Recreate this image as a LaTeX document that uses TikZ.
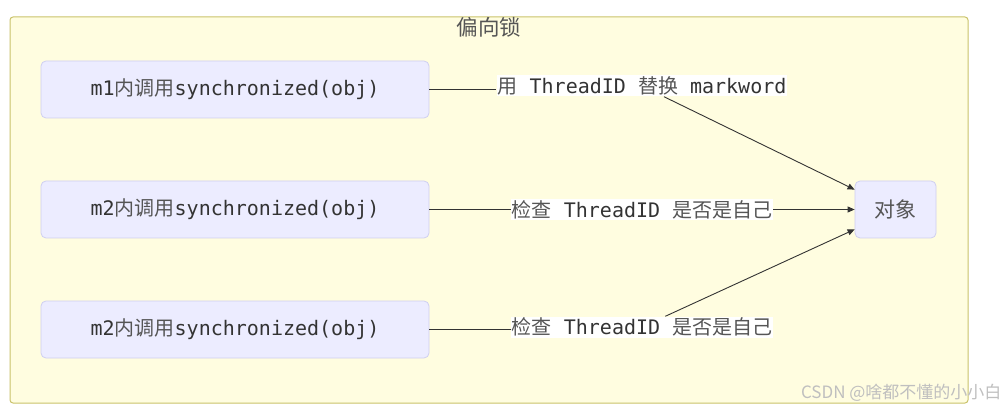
\documentclass[tikz,border=0pt]{standalone}
\usepackage{fontspec}
\setmonofont{DejaVu Sans Mono}
\newfontfamily\cjk{Noto Sans CJK SC}
\usetikzlibrary{arrows.meta,calc}
\definecolor{clfill}{HTML}{FFFDE0}
\definecolor{cldraw}{HTML}{C9C26A}
\definecolor{ndfill}{HTML}{ECECFF}
\definecolor{nddraw}{HTML}{CFCFF0}
\definecolor{txt}{HTML}{333333}
\definecolor{zhtxt}{HTML}{555555}
\newcommand\zh[1]{{\cjk\color{zhtxt}#1}}
\tikzset{
  basefont/.style={font=\ttfamily\fontsize{20}{22}\selectfont, text=txt},
  procbox/.style={basefont, draw=nddraw, fill=ndfill, rounded corners=5pt, line width=0.8pt, minimum width=388pt, minimum height=57pt, inner sep=0pt},
  objbox/.style={draw=nddraw, fill=ndfill, rounded corners=5pt, line width=0.8pt, minimum width=81pt, minimum height=57pt, inner sep=0pt, font=\fontsize{21}{23}\selectfont},
  edgelabel/.style={basefont, fill=white, inner xsep=1pt, inner ysep=0pt, minimum height=21pt},
  conn/.style={draw=txt, line width=0.9pt},
  arr/.style={conn, -{Triangle[length=7pt,width=6pt]}}
}
\begin{document}
\begin{tikzpicture}[x=1pt,y=-1pt]
\useasboundingbox (0,0) rectangle (1008,411);
\draw[fill=clfill, draw=cldraw, line width=1pt, rounded corners=3pt] (10,17) rectangle (968,403);
\node[font=\fontsize{21.5}{23}\selectfont] (title) at (489,27) {\zh{偏向锁}};
\node[procbox] (m1) at (235,89.5) {m1\zh{内调用}synchronized(obj)};
\node[procbox] (m2) at (235,209.5) {m2\zh{内调用}synchronized(obj)};
\node[procbox] (m3) at (235,329.5) {m2\zh{内调用}synchronized(obj)};
\node[objbox] (obj) at (895.5,209.5) {\zh{对象}};
\coordinate (o1) at ($(obj.north west)+(0,9)$);
\coordinate (o3) at ($(obj.south west)+(0,-9)$);
\node[edgelabel] (l1) at (642,86) {\zh{用} ThreadID \zh{替换} markword};
\node[edgelabel] (l2) at (642,209.5) {\zh{检查} ThreadID \zh{是否是自己}};
\node[edgelabel] (l3) at (642,327) {\zh{检查} ThreadID \zh{是否是自己}};
\draw[conn] (m1.east) -- (m1.east -| l1.west);
\draw[arr] (l1) -- (o1);
\draw[conn] (m2.east) -- (l2.west);
\draw[arr] (l2.east) -- (obj.west);
\draw[conn] (m3.east) -- (m3.east -| l3.west);
\draw[arr] (l3) -- (o3);
\node[font=\cjk\fontsize{17}{19}\selectfont, text=black!25, anchor=east] (wm) at (1005,393) {CSDN @啥都不懂的小小白};
\end{tikzpicture}
\end{document}
